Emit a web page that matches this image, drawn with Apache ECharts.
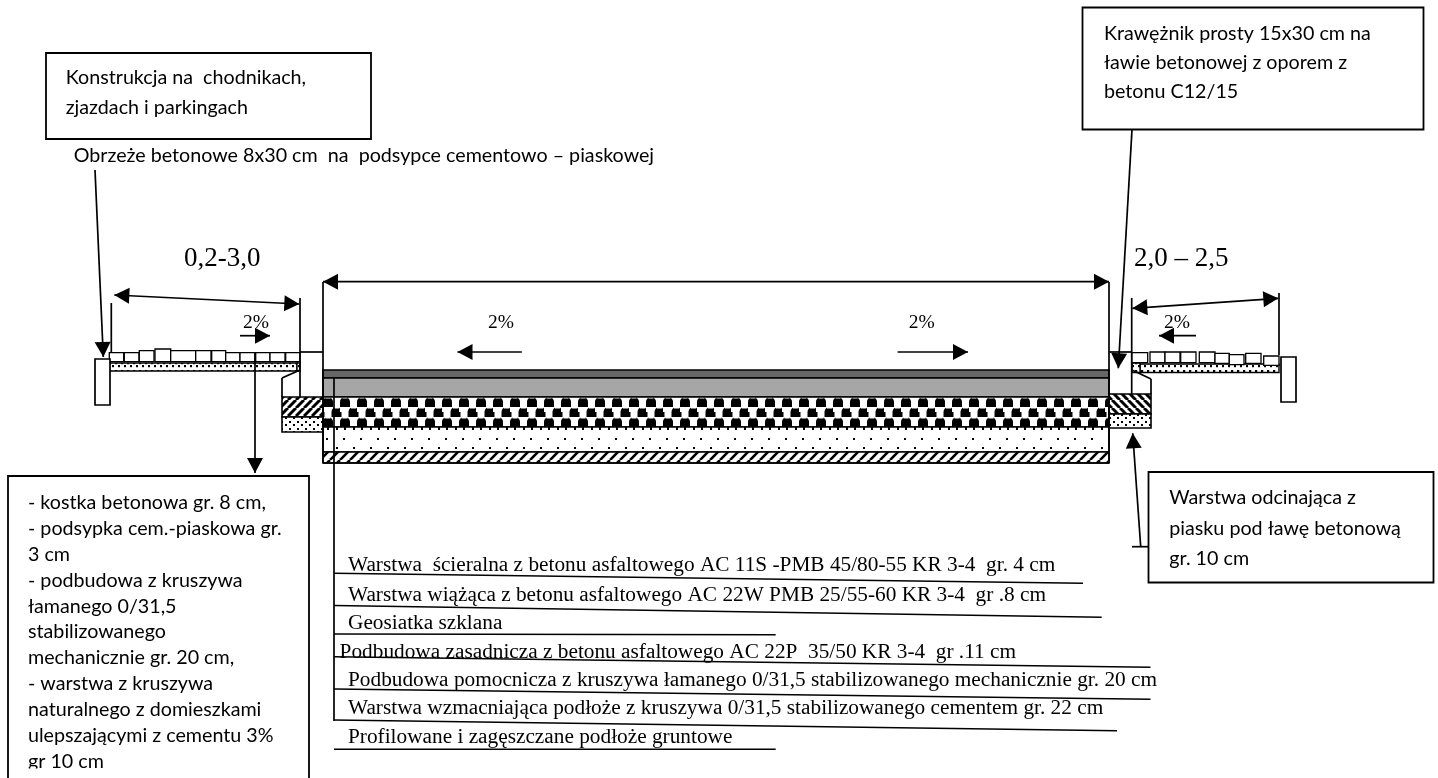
<!DOCTYPE html>
<html><head><meta charset="utf-8">
<style>html,body{margin:0;padding:0;background:#fff}#c{width:1438px;height:778px}</style>
<script src="https://cdn.jsdelivr.net/npm/echarts@6/dist/echarts.min.js"></script>
</head><body><div id="c"></div>
<script>
// ---- drawing data (in the reference's own x / y units) ----
const roadLayers = [
  [323,370,1109,378,'#666666'],
  [323,378,1109,397,'#a6a6a6'],
  [323,397,1109,427,'checker'],
  [323,427,1109,452,'coarse'],
  [323,452,1109,463,'thin']
];
const benchLayers = [
  [282,397,323,417,'hatchR'],
  [282,417,323,432,'sand'],
  [1109,394,1151,414,'hatchL'],
  [1109,414,1151,428,'sand']
];
const sandStrips = [
  [109.5,363,297,371,'fine'],
  [297,363,300,371,'fine'],
  [1140,364,1279,372.5,'fine'],
  [1132,363,1140,372.5,'fine']
];
const paversLeft = [
  [109.3,352.7,123.7,361.7],[124.3,352.7,139,361.7],[139.3,350.7,154,361.7],[155,349,170.7,361.7],
  [170.7,350.7,195.7,361.7],[195.7,350.7,211,361.7],[211.7,350.7,225.7,361.7],[225.7,352.7,240,361.7],
  [240,352.7,255,361.7],[255.7,352.7,270,361.7],[270,352.7,285,361.7],[285.7,352.7,300,361.7]
];
const paversRight = [
  [1131.7,352.7,1147.7,362.7],[1150,352,1165,362.7],[1165,352,1180,362.7],[1180.7,352,1196,362.7],
  [1199.3,352,1215,362.7],[1215,353.3,1229.3,363.3],[1229.3,354.7,1244,364.7],[1245.7,353.3,1261,363.3],
  [1263.7,356,1279,365.3]
];
const edgings = [[95,359,110,405],[1281,357,1296,402]];
const textBoxes = [
  [46,53,371,139],
  [1082.5,7.5,1423.5,129.5],
  [1148.5,472,1433.5,582.5],
  [8,476,309,800]
];
const plainLines = [
  [323,282,323,463],[1109,282,1109,463],[323,463,1109,463],
  [334,378,334,721],
  [300,298,300,397],[111.3,303,111.3,352],[300,352,323,352],
  [300,370,282,378],[282,378,282,397],
  [1131.7,298,1131.7,394],[1279,293,1279,355],[1109,352,1132,352],
  [1132,370,1151,379],[1151,379,1151,394],
  [1132,546.7,1148.5,546.7]
];
const labelLines = [
  [334,573.3,1083,583.3],
  [334,605.5,1101.7,617.3],
  [334,634,775.7,634.7],
  [334,656.7,1150.5,667.3],
  [334,689,1150.5,699.3],
  [334,720,1117,730.7],
  [334,749.3,775.7,749.3]
];
const singleArrows = [
  [95,170,103.3,357],
  [1132,129.5,1118.3,368.3],
  [1140.7,546.7,1132.7,433.3],
  [255,352,255,473],
  [240,335.7,270,335.7],
  [1196,335.7,1159,335.7],
  [521.8,352,457.5,352],
  [897.6,352,968,352]
];
const doubleArrows = [
  [114.3,295,299.3,304],
  [323,281.7,1109,281.7],
  [1132.3,308.3,1278.3,298.3]
];
const sansLabels = [
  ['Konstrukcja na  chodnikach,',65.7,83.5],
  ['zjazdach i parkingach',65.7,113],
  ['Obrzeże betonowe 8x30 cm  na  podsypce cementowo – piaskowej',73.7,161],
  ['Krawężnik prosty 15x30 cm na',1104,39],
  ['ławie betonowej z oporem z',1104,68],
  ['betonu C12/15',1104,97],
  ['Warstwa odcinająca z',1169.3,503],
  ['piasku pod ławę betonową',1169.3,534],
  ['gr. 10 cm',1169.3,564],
  ['- kostka betonowa gr. 8 cm,',28,508],
  ['- podsypka cem.-piaskowa gr.',28,534],
  ['3 cm',28,560],
  ['- podbudowa z kruszywa',28,586],
  ['łamanego 0/31,5',28,612],
  ['stabilizowanego',28,637.5],
  ['mechanicznie gr. 20 cm,',28,663],
  ['- warstwa z kruszywa',28,689],
  ['naturalnego z domieszkami',28,715],
  ['ulepszającymi z cementu 3%',28,741],
  ['gr 10 cm',28,767]
];
const serifLabels = [
  ['Warstwa  ścieralna z betonu asfaltowego AC 11S -PMB 45/80-55 KR 3-4  gr. 4 cm',348,571],
  ['Warstwa wiążąca z betonu asfaltowego AC 22W PMB 25/55-60 KR 3-4  gr .8 cm',348,601],
  ['Geosiatka szklana',348,629],
  ['Podbudowa zasadnicza z betonu asfaltowego AC 22P  35/50 KR 3-4  gr .11 cm',339.6,658],
  ['Podbudowa pomocnicza z kruszywa łamanego 0/31,5 stabilizowanego mechanicznie gr. 20 cm',348,685.7],
  ['Warstwa wzmacniająca podłoże z kruszywa 0/31,5 stabilizowanego cementem gr. 22 cm',348,714],
  ['Profilowane i zagęszczane podłoże gruntowe',348,743]
];
const percentLabels = [
  ['2%',243,329],['2%',1164,329],['2%',488,329],['2%',908.7,329]
];
const dimensionLabels = [
  ['0,2-3,0',184,266],['2,0 – 2,5',1134,266]
];
const cropMask = [[12,768.5,305,778]];

// ---- hatch tiles ----
function tile(w,h,draw){const c=document.createElement('canvas');c.width=w;c.height=h;const x=c.getContext('2d');
  x.fillStyle='#fff';x.fillRect(0,0,w,h);x.fillStyle='#000';x.strokeStyle='#000';draw(x,w,h);return {image:c,repeat:'repeat'};}
function diag(dir,lw){return (x,w,h)=>{x.lineWidth=lw;for(let i=-1;i<=1;i++){x.beginPath();
  if(dir>0){x.moveTo(i*w,h);x.lineTo(i*w+w,0);}else{x.moveTo(i*w,0);x.lineTo(i*w+w,h);}x.stroke();}};}
const fills = {
  checker: tile(17,20,(x)=>{
    for(const dy of [-3,17]){
      x.fillStyle='#000';
      x.beginPath();x.arc(5,dy+5,5,Math.PI,0);x.fill();x.fillRect(0,dy+5,10,5);
      x.beginPath();x.arc(13.5,dy+15,5,Math.PI,0);x.fill();x.fillRect(8.5,dy+15,8.5,5);x.fillRect(0,dy+15,1.5,5);
      x.fillStyle='#fff';x.fillRect(2.5,dy+0,5,1.5);x.fillRect(11,dy+10,5,1.5);
    }}),
  coarse: tile(17,36,(x)=>{x.fillRect(3,6,2,2);x.fillRect(13,15,2,2);x.fillRect(4,31,2,3);x.fillRect(13,31,2,3);
    x.fillRect(3,24,0,0);}),
  thin: tile(10,10,diag(1,2.6)),
  hatchR: tile(8,8,diag(1,3)),
  hatchL: tile(8,8,diag(-1,3)),
  sand: tile(8,7,(x)=>{x.fillRect(1,1,2,2);x.fillRect(5,4,2,2);}),
  fine: tile(6,8,(x)=>{x.fillRect(1,2,2.2,2.2);x.fillRect(4,5,2.2,2.2);})
};
const HEAD_LEN=15, HEAD_HALF=8;

// ---- series builders: every mark goes through the axis scales ----
function rectSeries(name,rows,stroke,lw){return {type:'custom',name,coordinateSystem:'cartesian2d',silent:true,
  data:rows.map((r,i)=>i),encode:{x:[],y:[]},
  renderItem(p,api){const r=rows[api.value(0)],a=api.coord([r[0],r[1]]),b=api.coord([r[2],r[3]]);
    const f=r[4]?(fills[r[4]]||r[4]):'#fff';
    return {type:'rect',shape:{x:a[0],y:a[1],width:b[0]-a[0],height:b[1]-a[1]},
      style:{fill:f,stroke:stroke,lineWidth:lw}};}};}
function lineSeries(name,rows,lw){return {type:'custom',name,coordinateSystem:'cartesian2d',silent:true,
  data:rows.map((r,i)=>i),encode:{x:[],y:[]},
  renderItem(p,api){const r=rows[api.value(0)],a=api.coord([r[0],r[1]]),b=api.coord([r[2],r[3]]);
    return {type:'line',shape:{x1:a[0],y1:a[1],x2:b[0],y2:b[1]},style:{stroke:'#000',lineWidth:lw}};}};}
function head(tip,from){const d=Math.hypot(tip[0]-from[0],tip[1]-from[1]),ux=(tip[0]-from[0])/d,uy=(tip[1]-from[1])/d;
  const bx=tip[0]-ux*HEAD_LEN,by=tip[1]-uy*HEAD_LEN;
  return {type:'polygon',shape:{points:[tip,[bx-uy*HEAD_HALF,by+ux*HEAD_HALF],[bx+uy*HEAD_HALF,by-ux*HEAD_HALF]]},style:{fill:'#000'}};}
function arrowSeries(name,rows,both){return {type:'custom',name,coordinateSystem:'cartesian2d',silent:true,
  data:rows.map((r,i)=>i),encode:{x:[],y:[]},
  renderItem(p,api){const r=rows[api.value(0)],a=api.coord([r[0],r[1]]),b=api.coord([r[2],r[3]]);
    const ch=[{type:'line',shape:{x1:a[0],y1:a[1],x2:b[0],y2:b[1]},style:{stroke:'#000',lineWidth:1.7}},head(b,a)];
    if(both)ch.push(head(a,b));
    return {type:'group',children:ch};}};}
function textSeries(name,rows,font,descent){return {type:'custom',name,coordinateSystem:'cartesian2d',silent:true,
  data:rows.map((r,i)=>i),encode:{x:[],y:[]},
  renderItem(p,api){const r=rows[api.value(0)],a=api.coord([r[1],r[2]]);
    return {type:'text',x:a[0],y:a[1]+descent,style:{text:r[0],font:font,fill:'#000',textAlign:'left',textVerticalAlign:'bottom'}};}};}

const chart=echarts.init(document.getElementById('c'),null,{renderer:'canvas',width:1438,height:778});
chart.setOption({
  animation:false,backgroundColor:'#fff',
  grid:{left:0,right:0,top:0,bottom:0},
  xAxis:{type:'value',min:0,max:1438,show:false},
  yAxis:{type:'value',min:0,max:778,inverse:true,show:false},
  series:[
    rectSeries('Warstwy jezdni',roadLayers,'#000',1.6),
    rectSeries('Ława',benchLayers,'#000',1.6),
    rectSeries('Podsypka',sandStrips,'#000',1.4),
    rectSeries('Kostka lewa',paversLeft,'#000',1.3),
    rectSeries('Kostka prawa',paversRight,'#000',1.3),
    rectSeries('Obrzeża',edgings,'#000',1.7),
    rectSeries('Ramki',textBoxes,'#000',1.8),
    lineSeries('Linie',plainLines,1.7),
    lineSeries('Odnośniki',labelLines,1.6),
    arrowSeries('Strzałki',singleArrows,false),
    arrowSeries('Wymiary',doubleArrows,true),
    textSeries('Opisy',sansLabels,'19.7px Lato',4.5),
    textSeries('Warstwy',serifLabels,'21.3px "Liberation Serif"',5),
    textSeries('Spadki',percentLabels,'19.5px "Liberation Serif"',4),
    textSeries('Szerokości',dimensionLabels,'27px "Liberation Serif"',6),
    rectSeries('Przycięcie',cropMask,'none',0)
  ]
});
</script></body></html>
